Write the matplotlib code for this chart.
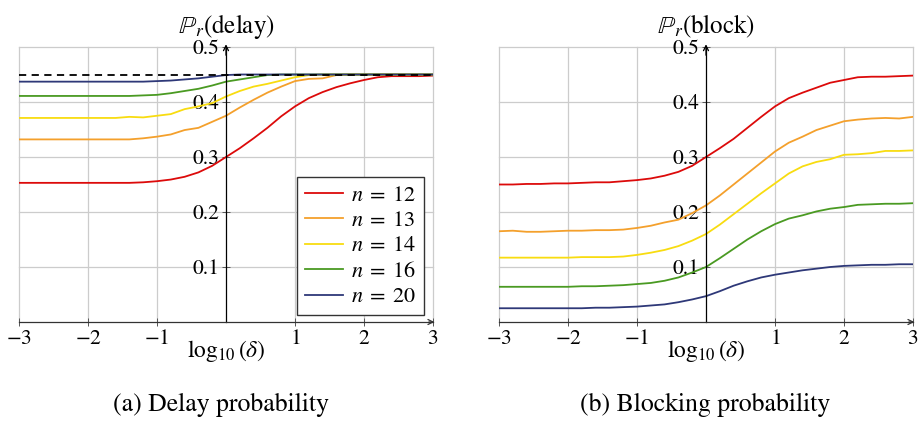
import matplotlib
matplotlib.use("Agg")
import matplotlib.pyplot as plt

plt.rcParams['font.family'] = ['STIXGeneral', 'DejaVu Serif']
plt.rcParams['mathtext.fontset'] = 'stix'

# log10(delta) sample points
log_delta = [-3.0, -2.8, -2.6, -2.4, -2.2, -2.0, -1.8, -1.6, -1.4, -1.2, -1.0,
             -0.8, -0.6, -0.4, -0.2, 0.0, 0.2, 0.4, 0.6, 0.8, 1.0, 1.2, 1.4,
             1.6, 1.8, 2.0, 2.2, 2.4, 2.6, 2.8, 3.0]

servers = [12, 13, 14, 16, 20]
colors = ['#dc0a0a', '#f4a02c', '#f8dc10', '#4a9a22', '#2e3878']

# delay probability
delay_12 = [0.253, 0.253, 0.253, 0.253, 0.253, 0.253, 0.253, 0.253, 0.253, 0.254, 0.256,
            0.259, 0.264, 0.272, 0.284, 0.300, 0.316, 0.334, 0.353, 0.374, 0.392, 0.407, 0.418,
            0.427, 0.434, 0.440, 0.445, 0.447, 0.447, 0.447, 0.448]
delay_13 = [0.332, 0.332, 0.332, 0.332, 0.332, 0.332, 0.332, 0.332, 0.332, 0.334, 0.337,
            0.341, 0.349, 0.353, 0.364, 0.375, 0.390, 0.404, 0.417, 0.428, 0.438, 0.442, 0.443,
            0.449, 0.450, 0.450, 0.450, 0.450, 0.450, 0.450, 0.450]
delay_14 = [0.371, 0.371, 0.371, 0.371, 0.371, 0.371, 0.371, 0.371, 0.373, 0.372, 0.375,
            0.378, 0.387, 0.392, 0.398, 0.410, 0.420, 0.428, 0.433, 0.439, 0.445, 0.449, 0.450,
            0.450, 0.450, 0.450, 0.450, 0.450, 0.450, 0.450, 0.450]
delay_16 = [0.411, 0.411, 0.411, 0.411, 0.411, 0.411, 0.411, 0.411, 0.411, 0.412, 0.413,
            0.416, 0.420, 0.424, 0.430, 0.437, 0.441, 0.445, 0.449, 0.450, 0.450, 0.450, 0.450,
            0.450, 0.450, 0.450, 0.450, 0.450, 0.450, 0.450, 0.450]
delay_20 = [0.437, 0.437, 0.437, 0.437, 0.437, 0.437, 0.437, 0.437, 0.437, 0.437, 0.438,
            0.439, 0.441, 0.443, 0.446, 0.449, 0.450, 0.450, 0.450, 0.450, 0.450, 0.450, 0.450,
            0.450, 0.450, 0.450, 0.450, 0.450, 0.450, 0.450, 0.450]
delay_limit = 0.45

# blocking probability
block_12 = [0.250, 0.250, 0.251, 0.251, 0.252, 0.252, 0.253, 0.254, 0.254, 0.256, 0.258,
            0.261, 0.266, 0.273, 0.284, 0.300, 0.316, 0.333, 0.353, 0.373, 0.392, 0.407, 0.417,
            0.426, 0.435, 0.440, 0.445, 0.446, 0.446, 0.447, 0.448]
block_13 = [0.165, 0.166, 0.164, 0.164, 0.165, 0.166, 0.166, 0.167, 0.167, 0.168, 0.171,
            0.175, 0.181, 0.186, 0.198, 0.212, 0.230, 0.250, 0.270, 0.290, 0.310, 0.326, 0.337,
            0.349, 0.357, 0.365, 0.368, 0.370, 0.371, 0.370, 0.373]
block_14 = [0.117, 0.117, 0.117, 0.117, 0.117, 0.117, 0.118, 0.118, 0.118, 0.119, 0.122,
            0.126, 0.131, 0.138, 0.148, 0.160, 0.177, 0.196, 0.215, 0.234, 0.252, 0.270, 0.283,
            0.291, 0.296, 0.304, 0.305, 0.307, 0.311, 0.311, 0.312]
block_16 = [0.064, 0.064, 0.064, 0.064, 0.064, 0.064, 0.065, 0.065, 0.066, 0.067, 0.069,
            0.071, 0.075, 0.081, 0.090, 0.100, 0.116, 0.133, 0.150, 0.165, 0.178, 0.188, 0.194,
            0.201, 0.206, 0.209, 0.213, 0.214, 0.215, 0.215, 0.216]
block_20 = [0.025, 0.025, 0.025, 0.025, 0.025, 0.025, 0.025, 0.026, 0.026, 0.027, 0.028,
            0.030, 0.032, 0.036, 0.041, 0.047, 0.056, 0.066, 0.074, 0.081, 0.086, 0.090, 0.094,
            0.097, 0.100, 0.102, 0.103, 0.104, 0.104, 0.105, 0.105]

x_ticks = [-3, -2, -1, 1, 2, 3]
y_ticks = [0.1, 0.2, 0.3, 0.4, 0.5]


def style_axes(ax, ylabel):
    ax.set_xlim(-3, 3)
    ax.set_ylim(0, 0.5)
    for side in ['top', 'right']:
        ax.spines[side].set_visible(False)
    ax.spines['left'].set_position(('data', 0))
    ax.spines['bottom'].set_position(('data', 0))
    ax.spines['left'].set_linewidth(0.9)
    ax.spines['bottom'].set_linewidth(0.9)
    ax.spines['bottom'].set_color('#333333')
    ax.set_xticks(x_ticks)
    ax.set_yticks(y_ticks)
    ax.set_xticklabels(['$-3$', '$-2$', '$-1$', '$1$', '$2$', '$3$'])
    ax.set_yticklabels(['0.1', '0.2', '0.3', '0.4', '0.5'])
    ax.tick_params(direction='inout', length=6, width=0.7, color='#555555',
                   labelsize=15.5, pad=2)
    ax.grid(True, color='#cccccc', linewidth=0.9)
    for gl in ax.get_xgridlines() + ax.get_ygridlines():
        gl.set_clip_on(False)
    # arrow heads on both axes
    ax.annotate('', xy=(3.06, 0), xytext=(2.9, 0),
                arrowprops=dict(arrowstyle='->', lw=0.9, color='#333333',
                                mutation_scale=9),
                annotation_clip=False)
    ax.annotate('', xy=(0, 0.51), xytext=(0, 0.48),
                arrowprops=dict(arrowstyle='->', lw=0.9, color='black',
                                mutation_scale=9),
                annotation_clip=False)
    ax.set_title(ylabel, fontsize=18, pad=10)
    ax.text(0.5, -0.06, r'$\log_{10}(\delta)$', transform=ax.transAxes,
            ha='center', va='top', fontsize=17)


fig = plt.figure(figsize=(9.21, 4.21), dpi=100)
ax1 = fig.add_axes([19 / 921, 99 / 421, 414 / 921, 275 / 421])
ax2 = fig.add_axes([499 / 921, 99 / 421, 414 / 921, 275 / 421])

delay_series = [delay_12, delay_13, delay_14, delay_16, delay_20]
block_series = [block_12, block_13, block_14, block_16, block_20]

for n, c, d, b in zip(servers, colors, delay_series, block_series):
    ax1.plot(log_delta, d, color=c, lw=1.3, label=f'$n \\;=\\; {n}$')
    ax2.plot(log_delta, b, color=c, lw=1.3)

ax1.axhline(delay_limit, color='black', lw=1.3, ls=(0, (4, 3)))

style_axes(ax1, r'$\mathbb{P}_r(\mathrm{delay})$')
style_axes(ax2, r'$\mathbb{P}_r(\mathrm{block})$')

leg = ax1.legend(loc='lower right', bbox_to_anchor=(0.978, 0.025), fontsize=16,
                 frameon=True, fancybox=False, framealpha=1, borderaxespad=0,
                 handlelength=1.7, handletextpad=0.35, labelspacing=0.22,
                 borderpad=0.35)
leg.get_frame().set_edgecolor('#333333')
leg.get_frame().set_linewidth(1.0)

fig.text(221 / 921, 1 - 405 / 421, '(a) Delay probability', ha='center',
         va='center', fontsize=18.5)
fig.text(705 / 921, 1 - 405 / 421, '(b) Blocking probability', ha='center',
         va='center', fontsize=18.5)

fig.savefig('out.png', dpi=100)
